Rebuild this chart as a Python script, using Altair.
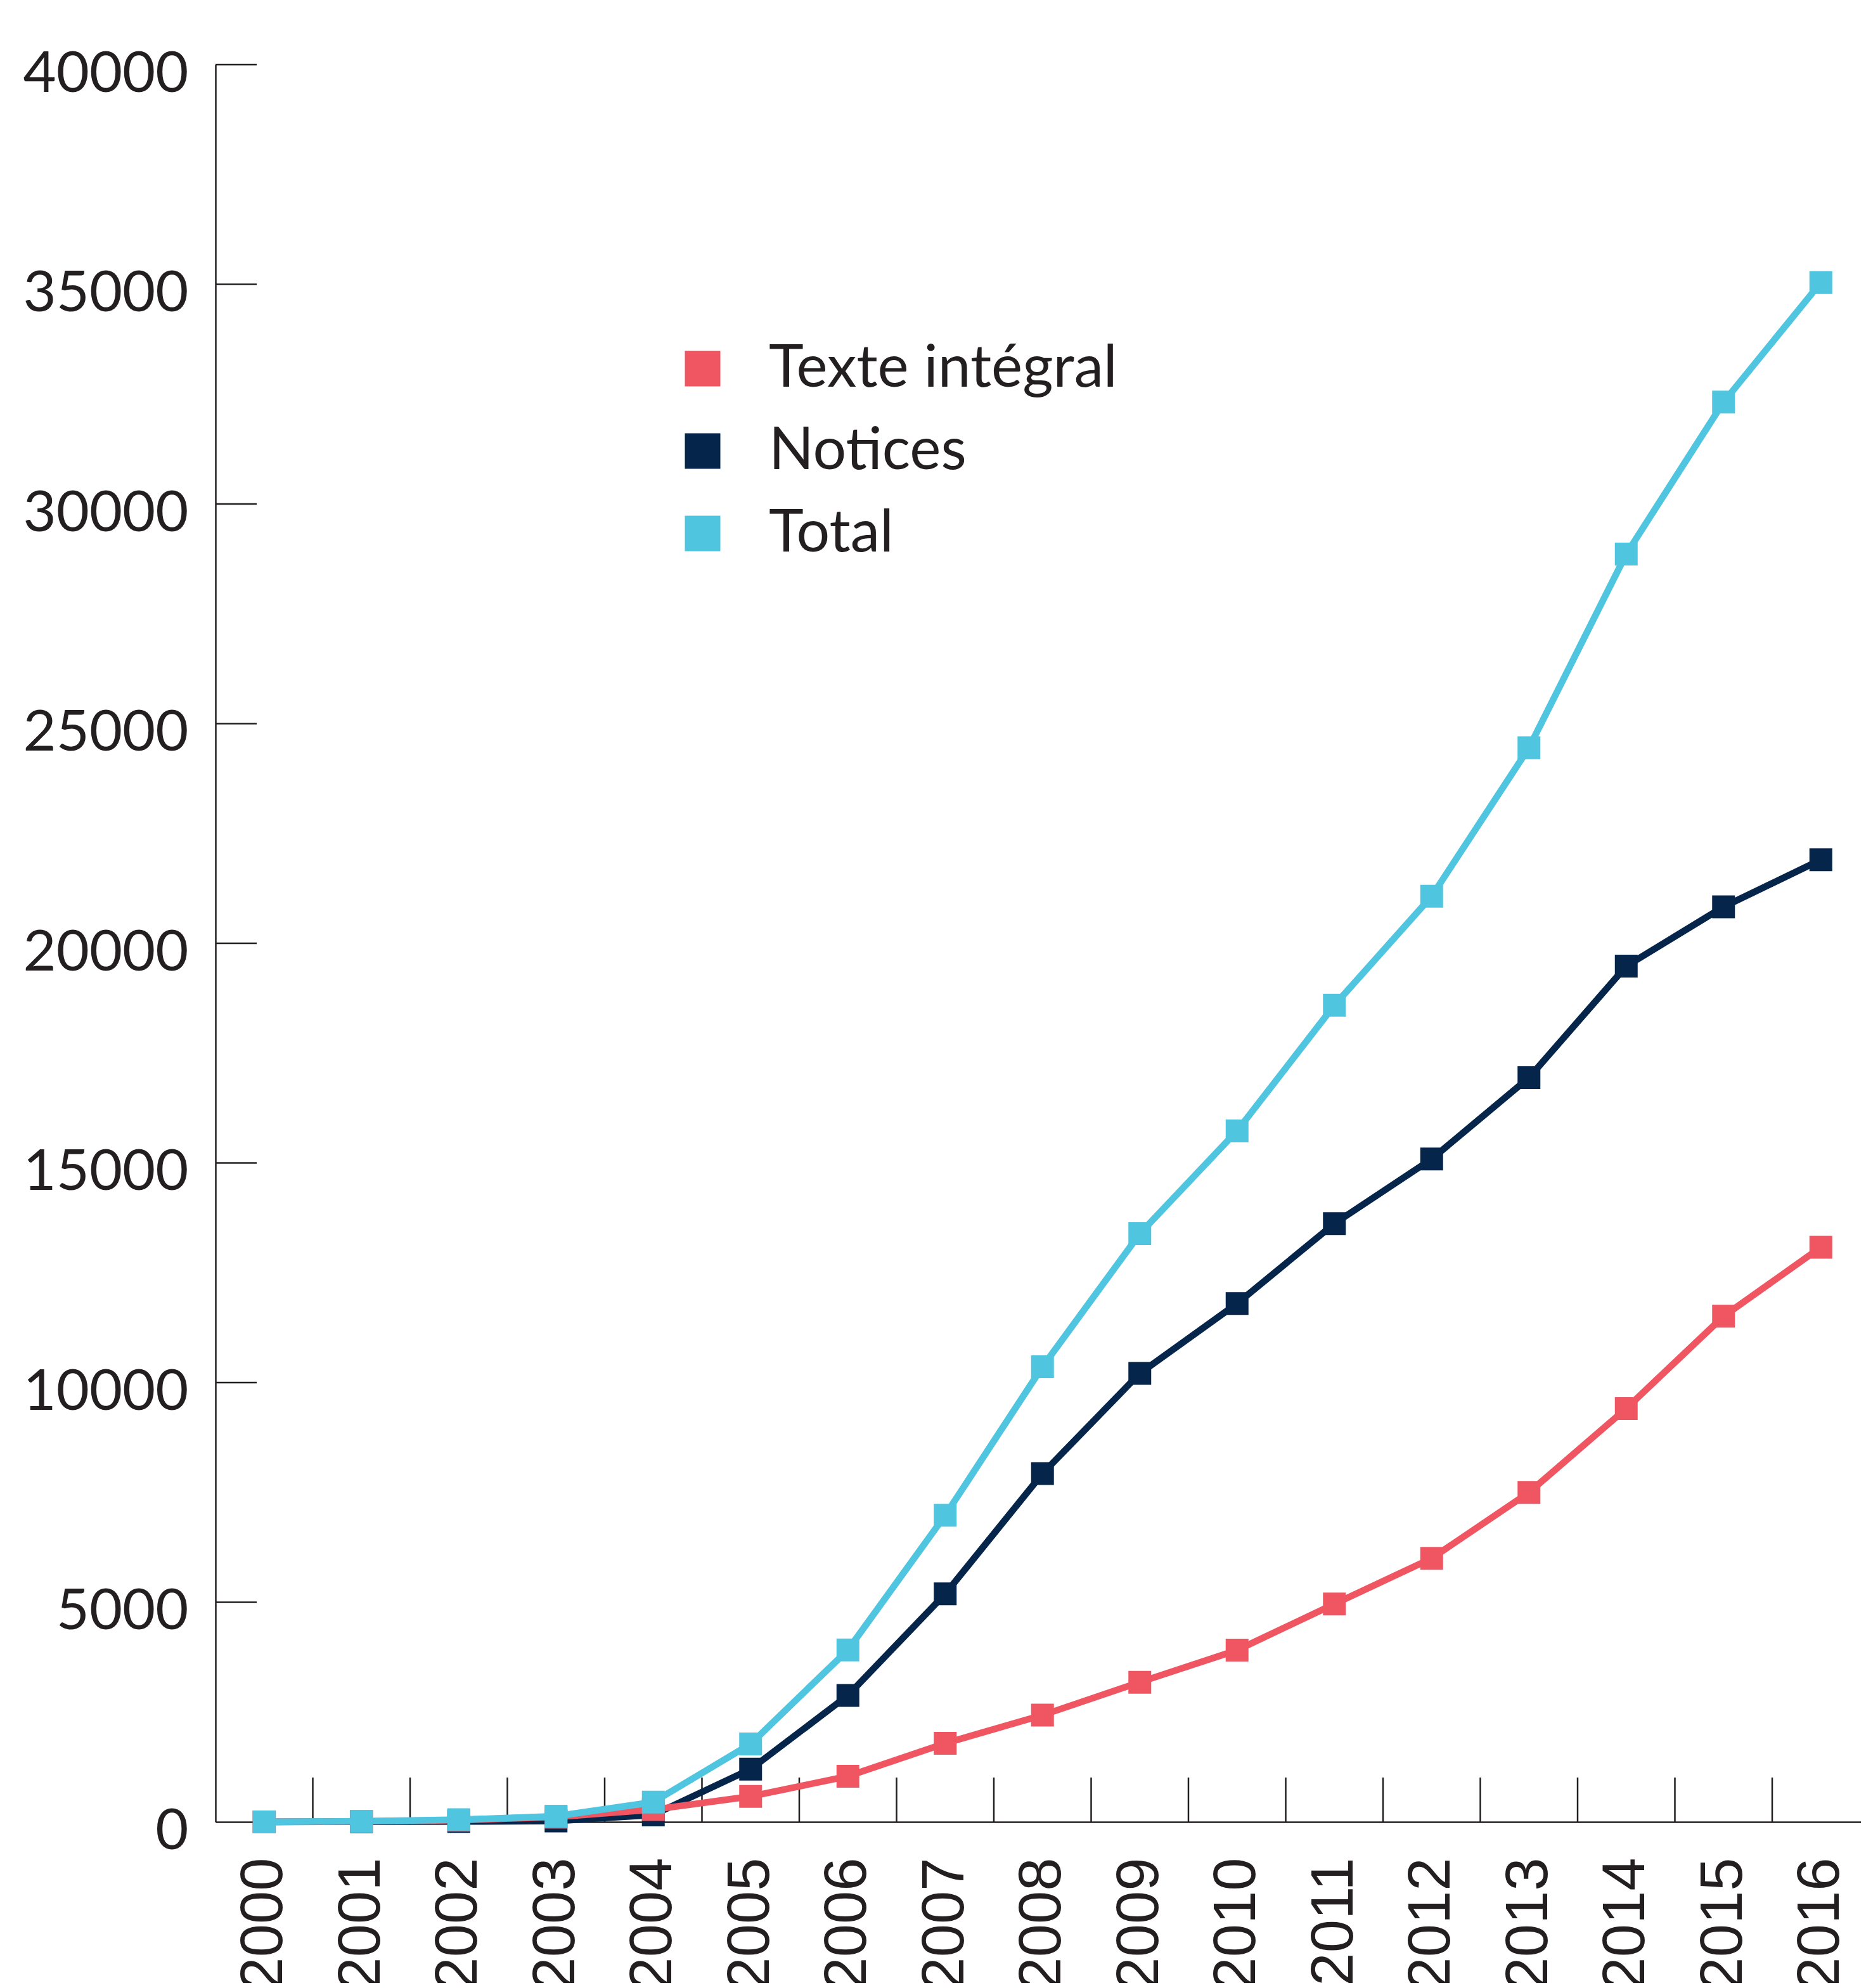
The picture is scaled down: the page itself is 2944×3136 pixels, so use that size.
import altair as alt
import pandas as pd

years = [2000, 2001, 2002, 2003, 2004, 2005, 2006, 2007, 2008,
         2009, 2010, 2011, 2012, 2013, 2014, 2015, 2016]
texte = [0, 10, 40, 110, 280, 580, 1040, 1790, 2430, 3180, 3910,
         4960, 6000, 7500, 9410, 11510, 13080]
notices = [0, 5, 10, 20, 160, 1200, 2880, 5190, 7930, 10210, 11800,
           13620, 15090, 16940, 19480, 20830, 21900]
total = [0, 15, 50, 130, 450, 1775, 3915, 6980, 10360, 13390, 15730,
         18590, 21070, 24450, 28860, 32320, 35040]

series_names = ["Texte intégral", "Notices", "Total"]
series_colors = ["#F05662", "#05254A", "#4FC5E0"]

y_tick_values = [0, 5000, 10000, 15000, 20000, 25000, 30000, 35000, 40000]
x_boundaries = [2000.5, 2001.5, 2002.5, 2003.5, 2004.5, 2005.5, 2006.5, 2007.5,
                2008.5, 2009.5, 2010.5, 2011.5, 2012.5, 2013.5, 2014.5, 2015.5]

rows = []
for name, vals in zip(series_names, [texte, notices, total]):
    for yr, v in zip(years, vals):
        rows.append({"annee": yr, "valeur": v, "serie": name})
df = pd.DataFrame(rows)

W = 2596
H = 2772
STEP = 153.5
TEXT = "#231f20"

x_scale = alt.Scale(domain=[1999.5, 1999.5 + W / STEP], nice=False, zero=False)
y_scale = alt.Scale(domain=[0, 40000], nice=False, zero=True)
color_scale = alt.Scale(domain=series_names, range=series_colors)

x_axis = alt.Axis(values=years, format="d", labelAngle=270, labelFont="Liberation Sans",
                  labelFontSize=94, labelColor=TEXT, ticks=False, tickSize=0,
                  labelPadding=56, domainColor=TEXT, domainWidth=2.5, grid=False,
                  title=None, labelOverlap=False, labelFlush=False, labelBound=False,
                  labelLimit=1000)
y_axis = alt.Axis(values=y_tick_values, format="d", labelFont="Lato", labelFontSize=90,
                  labelColor=TEXT, ticks=False, tickSize=0, labelPadding=43,
                  labelOffset=15, domainColor=TEXT, domainWidth=2.5, grid=False,
                  title=None, labelOverlap=False, labelFlush=False, labelBound=False,
                  labelLimit=1000)

legend = alt.Legend(orient="none", legendX=722, legendY=433, padding=0, title=None,
                    symbolType="square", symbolSize=3136, symbolStrokeWidth=0,
                    symbolOpacity=1, labelFont="Lato", labelFontSize=93,
                    labelColor=TEXT, rowPadding=36, labelOffset=58, labelLimit=0)

X = lambda f: alt.X(f, scale=x_scale, axis=x_axis)
Y = lambda f: alt.Y(f, scale=y_scale, axis=y_axis)
C = alt.Color("serie:N", scale=color_scale, legend=legend)

ytick_df = pd.DataFrame({"v": y_tick_values[1:]})
ytick_layer = alt.Chart(ytick_df).mark_rule(color=TEXT, strokeWidth=2.5).encode(
    y=Y("v:Q"), x=alt.value(0), x2=alt.value(65),
)
xtick_df = pd.DataFrame({"b": x_boundaries})
xtick_layer = alt.Chart(xtick_df).mark_rule(color=TEXT, strokeWidth=2.5).encode(
    x=X("b:Q"), y=alt.value(H), y2=alt.value(H - 70),
)

layers = [ytick_layer, xtick_layer]
for name in ["Notices", "Texte intégral", "Total"]:
    b = alt.Chart(df).transform_filter(alt.datum.serie == name)
    line = b.mark_line(strokeWidth=10.5).encode(
        x=X("annee:Q"), y=Y("valeur:Q"), color=C,
    )
    pts = b.mark_point(shape="square", filled=True, size=1296, opacity=1, strokeWidth=0).encode(
        x=X("annee:Q"), y=Y("valeur:Q"), color=C,
    )
    layers += [line, pts]

chart = alt.layer(*layers).properties(
    width=W, height=H,
    autosize=alt.AutoSizeParams(type="none"),
    padding={"left": 332, "top": 94, "right": 0, "bottom": 254},
    background="white",
).configure_view(stroke=None)

chart.save("out.html", embed_options={"renderer": "svg", "actions": False})
